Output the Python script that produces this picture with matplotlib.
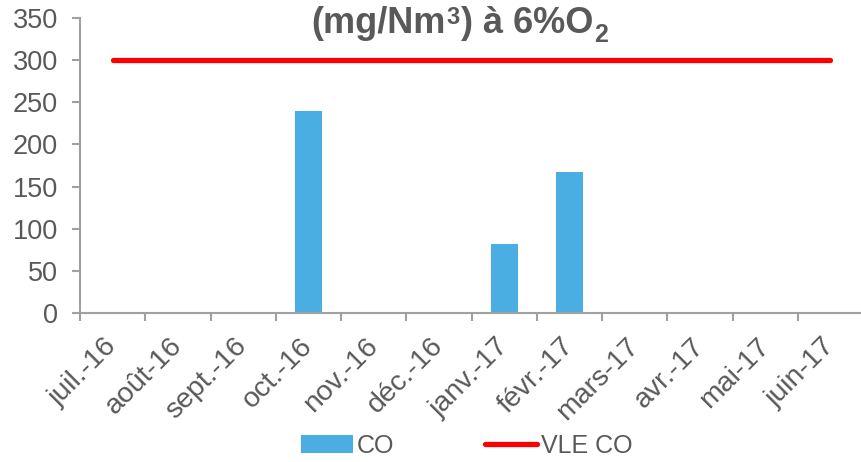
import matplotlib
matplotlib.use('Agg')
import matplotlib.pyplot as plt
from matplotlib.patches import Patch
from matplotlib.lines import Line2D

plt.rcParams['font.family'] = ['Liberation Sans', 'DejaVu Sans']

months = ['juil.-16', 'août-16', 'sept.-16', 'oct.-16', 'nov.-16', 'déc.-16',
          'janv.-17', 'févr.-17', 'mars-17', 'avr.-17', 'mai-17', 'juin-17']
co = [0, 0, 0, 240, 0, 0, 82, 167, 0, 0, 0, 0]
vle_co = [300] * 12

grey = '#595959'
axis_grey = '#a0a0a0'
blue = '#4baee2'

fig = plt.figure(figsize=(8.61, 4.62), dpi=100)
ax = fig.add_axes([0.093, 0.3225, 0.917, 0.6385])

x = list(range(len(months)))
ax.bar(x, co, width=0.41, color=blue, zorder=2)
ax.plot(x, vle_co, color='#ff0000', linewidth=3.8, solid_capstyle='round', zorder=3)

ax.set_xlim(-0.5, 11.6)
ax.set_ylim(0, 350)
ax.set_yticks(range(0, 351, 50))

for side in ('top', 'right'):
    ax.spines[side].set_visible(False)
for side in ('left', 'bottom'):
    ax.spines[side].set_color(axis_grey)
    ax.spines[side].set_linewidth(1.5)

ax.tick_params(axis='y', colors=axis_grey, labelcolor=grey, labelsize=19.5,
               length=6, width=1.5, pad=10)
ax.set_xticks(x)
ax.set_xticklabels(months, rotation=45, ha='right', va='center',
                   rotation_mode='anchor', fontsize=20.5, color=grey)
ax.tick_params(axis='x', which='major', length=0, pad=21)
ax.set_xticks([i - 0.5 for i in range(len(months))], minor=True)
ax.tick_params(axis='x', which='minor', colors=axis_grey, length=6, width=1.5)

# title built in pieces so the superscript and subscript keep their own size
ty = 0.928
tkw = dict(fontweight='bold', color=grey, va='baseline', ha='left')
t1 = fig.text(0.362, ty, '(mg/Nm', fontsize=26, **tkw)
t2 = ax.annotate('3', xy=(1, ty), xycoords=(t1, 'figure fraction'),
                 xytext=(0.5, 6.5), textcoords='offset points',
                 annotation_clip=False, fontsize=17, **tkw)
t3 = ax.annotate(') à 6%O', xy=(1, ty), xycoords=(t2, 'figure fraction'),
                 xytext=(0.5, 0), textcoords='offset points',
                 annotation_clip=False, fontsize=26, **tkw)
ax.annotate('2', xy=(1, ty), xycoords=(t3, 'figure fraction'),
            xytext=(0.5, -6), textcoords='offset points',
            annotation_clip=False, fontsize=18, **tkw)

handles = [Patch(facecolor=blue, edgecolor='none'),
           Line2D([], [], color='#ff0000', linewidth=3.8, solid_capstyle='round')]
fig.legend(handles, ['CO', 'VLE CO'], loc='center', bbox_to_anchor=(0.542, 0.035),
           ncol=2, frameon=False, fontsize=18, labelcolor=grey,
           handlelength=2.1, handleheight=0.7, handletextpad=0.15, columnspacing=3.6)

fig.savefig('out.png', dpi=100)
